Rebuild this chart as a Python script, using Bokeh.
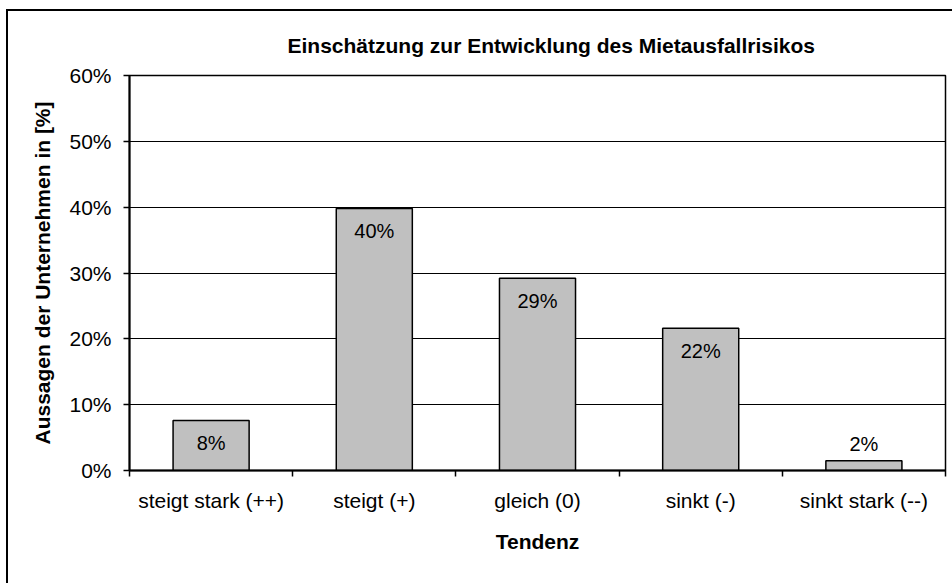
from bokeh.plotting import figure
from bokeh.layouts import column
from bokeh.models import Range1d, FixedTicker, Title, ColumnDataSource
from bokeh.embed import file_html
from bokeh.resources import INLINE

# ---- data ----
categories = ["steigt stark (++)", "steigt (+)", "gleich (0)", "sinkt (-)", "sinkt stark (--)"]
values = [7.6, 39.8, 29.2, 21.6, 1.5]
value_labels = ["8%", "40%", "29%", "22%", "2%"]
y_ticks = [0, 10, 20, 30, 40, 50, 60]
y_tick_labels = ["0%", "10%", "20%", "30%", "40%", "50%", "60%"]
chart_title = "Einschätzung zur Entwicklung des Mietausfallrisikos"
x_title = "Tendenz"
y_title = "Aussagen der Unternehmen in [%]"

FONT = "Liberation Sans"

n = len(categories)
centers = [i + 0.5 for i in range(n)]
bounds = [float(i) for i in range(n + 1)]

src = ColumnDataSource(dict(
    x=centers,
    top=values,
    lab=value_labels,
    off=[23 if v > 5 else -17 for v in values],
))

W, H = 944, 572
p = figure(width=W, height=H, output_backend="svg", toolbar_location=None,
           x_range=Range1d(0, n), y_range=Range1d(0, 60),
           min_border_left=121, min_border_right=7,
           min_border_top=64, min_border_bottom=113,
           background_fill_color="white", border_fill_color="white")

p.add_layout(Title(text=chart_title, align="left", offset=158,
                   text_font=FONT, text_font_size="21px", text_font_style="bold",
                   text_color="black", standoff=38), "above")

p.vbar(x="x", top="top", bottom=0, width=0.466, source=src,
       fill_color="#C0C0C0", line_color="black", line_width=1.5)

p.text(x="x", y="top", text="lab", y_offset="off", source=src,
       text_align="center", text_baseline="middle",
       text_font={"value": FONT}, text_font_size="20px", text_color="black")

# x axis: labels at centres, tick marks at boundaries
xa = p.xaxis[0]
xa.ticker = FixedTicker(ticks=centers, minor_ticks=bounds)
xa.major_label_overrides = {c: lab for c, lab in zip(centers, categories)}
xa.major_tick_line_color = None
xa.minor_tick_line_color = "black"
xa.minor_tick_line_width = 1.5
xa.minor_tick_in = 0
xa.minor_tick_out = 6
xa.major_label_standoff = 12
xa.major_label_text_font = FONT
xa.major_label_text_font_size = "21px"
xa.major_label_text_color = "black"
xa.axis_line_color = "black"
xa.axis_line_width = 2
xa.axis_label = x_title
xa.axis_label_text_font = FONT
xa.axis_label_text_font_size = "21px"
xa.axis_label_text_font_style = "bold"
xa.axis_label_text_color = "black"
xa.axis_label_standoff = 15

ya = p.yaxis[0]
ya.ticker = FixedTicker(ticks=y_ticks)
ya.major_label_overrides = {t: l for t, l in zip(y_ticks, y_tick_labels)}
ya.major_tick_line_color = "black"
ya.major_tick_line_width = 1.5
ya.major_tick_in = 0
ya.major_tick_out = 6
ya.minor_tick_line_color = None
ya.major_label_standoff = 12
ya.major_label_text_font = FONT
ya.major_label_text_font_size = "21px"
ya.major_label_text_color = "black"
ya.axis_line_color = "black"
ya.axis_line_width = 2
ya.axis_label = y_title
ya.axis_label_text_font = FONT
ya.axis_label_text_font_size = "21px"
ya.axis_label_text_font_style = "bold"
ya.axis_label_text_color = "black"
ya.axis_label_standoff = 12

p.xgrid.grid_line_color = None
p.ygrid.grid_line_color = "black"
p.ygrid.grid_line_width = 1.2
p.outline_line_color = "black"
p.outline_line_width = 1.5
p.outline_line_alpha = 1

layout = column(p, styles={"border-left": "2px solid black", "border-top": "2px solid black",
                           "border-right": "none", "border-bottom": "none",
                           "margin-left": "6px", "margin-top": "9px"})

open("out.html", "w").write(file_html(layout, INLINE))
